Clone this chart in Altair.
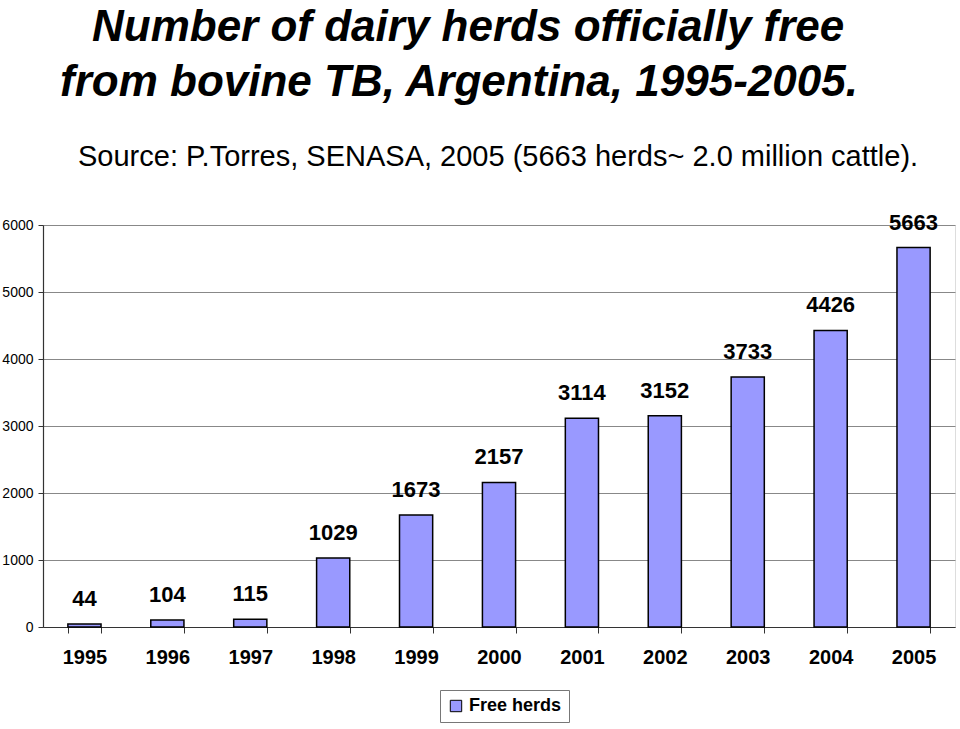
import altair as alt
import pandas as pd

years = ["1995", "1996", "1997", "1998", "1999", "2000", "2001", "2002", "2003", "2004", "2005"]
herds = [44, 104, 115, 1029, 1673, 2157, 3114, 3152, 3733, 4426, 5663]
series = ["Free herds"] * len(years)
y_ticks = [0, 1000, 2000, 3000, 4000, 5000, 6000]

df = pd.DataFrame({"year": years, "herds": herds, "series": series})

SANS = "'Liberation Sans', Arial, sans-serif"

x = alt.X("year:N", sort=years, title=None,
          scale=alt.Scale(paddingInner=0.6, paddingOuter=0.3),
          axis=alt.Axis(labelAngle=0, labelFont=SANS, labelFontSize=20, labelFontWeight="bold",
                        labelColor="black", labelPadding=14, tickBand="extent", tickSize=6,
                        tickColor="#333", domainColor="#333", domainWidth=1.2))
y = alt.Y("herds:Q", title=None,
          scale=alt.Scale(domain=[0, 6000], nice=False),
          axis=alt.Axis(values=y_ticks, format="d", labelFont=SANS,
                        labelFontSize=14, labelColor="black", labelPadding=5, tickSize=5,
                        tickColor="#333", domainColor="#333", domainWidth=1.2,
                        grid=True, gridColor="#888", gridWidth=1))

bars = alt.Chart(df).mark_bar(stroke="black", strokeWidth=1.5).encode(
    x=x, y=y,
    color=alt.Color("series:N", title=None,
                    scale=alt.Scale(domain=["Free herds"], range=["#9999FF"]),
                    legend=alt.Legend(orient="none", legendX=397, legendY=465,
                                      strokeColor="#777", padding=7, symbolType="square",
                                      symbolSize=130, symbolStrokeColor="black",
                                      symbolStrokeWidth=1, labelOffset=4, labelFont=SANS,
                                      labelFontSize=18, labelFontWeight="bold",
                                      labelColor="black"))
)

labels = alt.Chart(df).mark_text(font=SANS, fontSize=22, fontWeight="bold",
                                 baseline="bottom", dy=-13, color="black").encode(
    x=alt.X("year:N", sort=years), y="herds:Q", text="herds:Q")

title_lines = ["Number of dairy herds officially free", "from bovine TB, Argentina, 1995-2005."]
t1 = alt.Chart(pd.DataFrame({"t": [title_lines[0]]})).mark_text(
    font=SANS, fontSize=44, fontWeight="bold", fontStyle="italic", align="left",
    baseline="alphabetic", color="black").encode(x=alt.value(49), y=alt.value(-184), text="t:N")
t2 = alt.Chart(pd.DataFrame({"t": [title_lines[1]]})).mark_text(
    font=SANS, fontSize=44, fontWeight="bold", fontStyle="italic", align="left",
    baseline="alphabetic", color="black").encode(x=alt.value(17), y=alt.value(-129), text="t:N")
src = alt.Chart(pd.DataFrame({"t": ["Source: P.Torres, SENASA, 2005 (5663 herds~ 2.0 million cattle)."]})).mark_text(
    font=SANS, fontSize=29, align="left", baseline="alphabetic", color="black").encode(
    x=alt.value(35), y=alt.value(-59), text="t:N")

chart = alt.layer(bars, labels, t1, t2, src).properties(
    width=912, height=402,
    autosize=alt.AutoSizeParams(type="none"),
    padding={"left": 43, "top": 225, "right": 5, "bottom": 102},
).configure_view(stroke=None).configure(background="white")

chart.save("out.html", embed_options={"renderer": "svg", "actions": False})
